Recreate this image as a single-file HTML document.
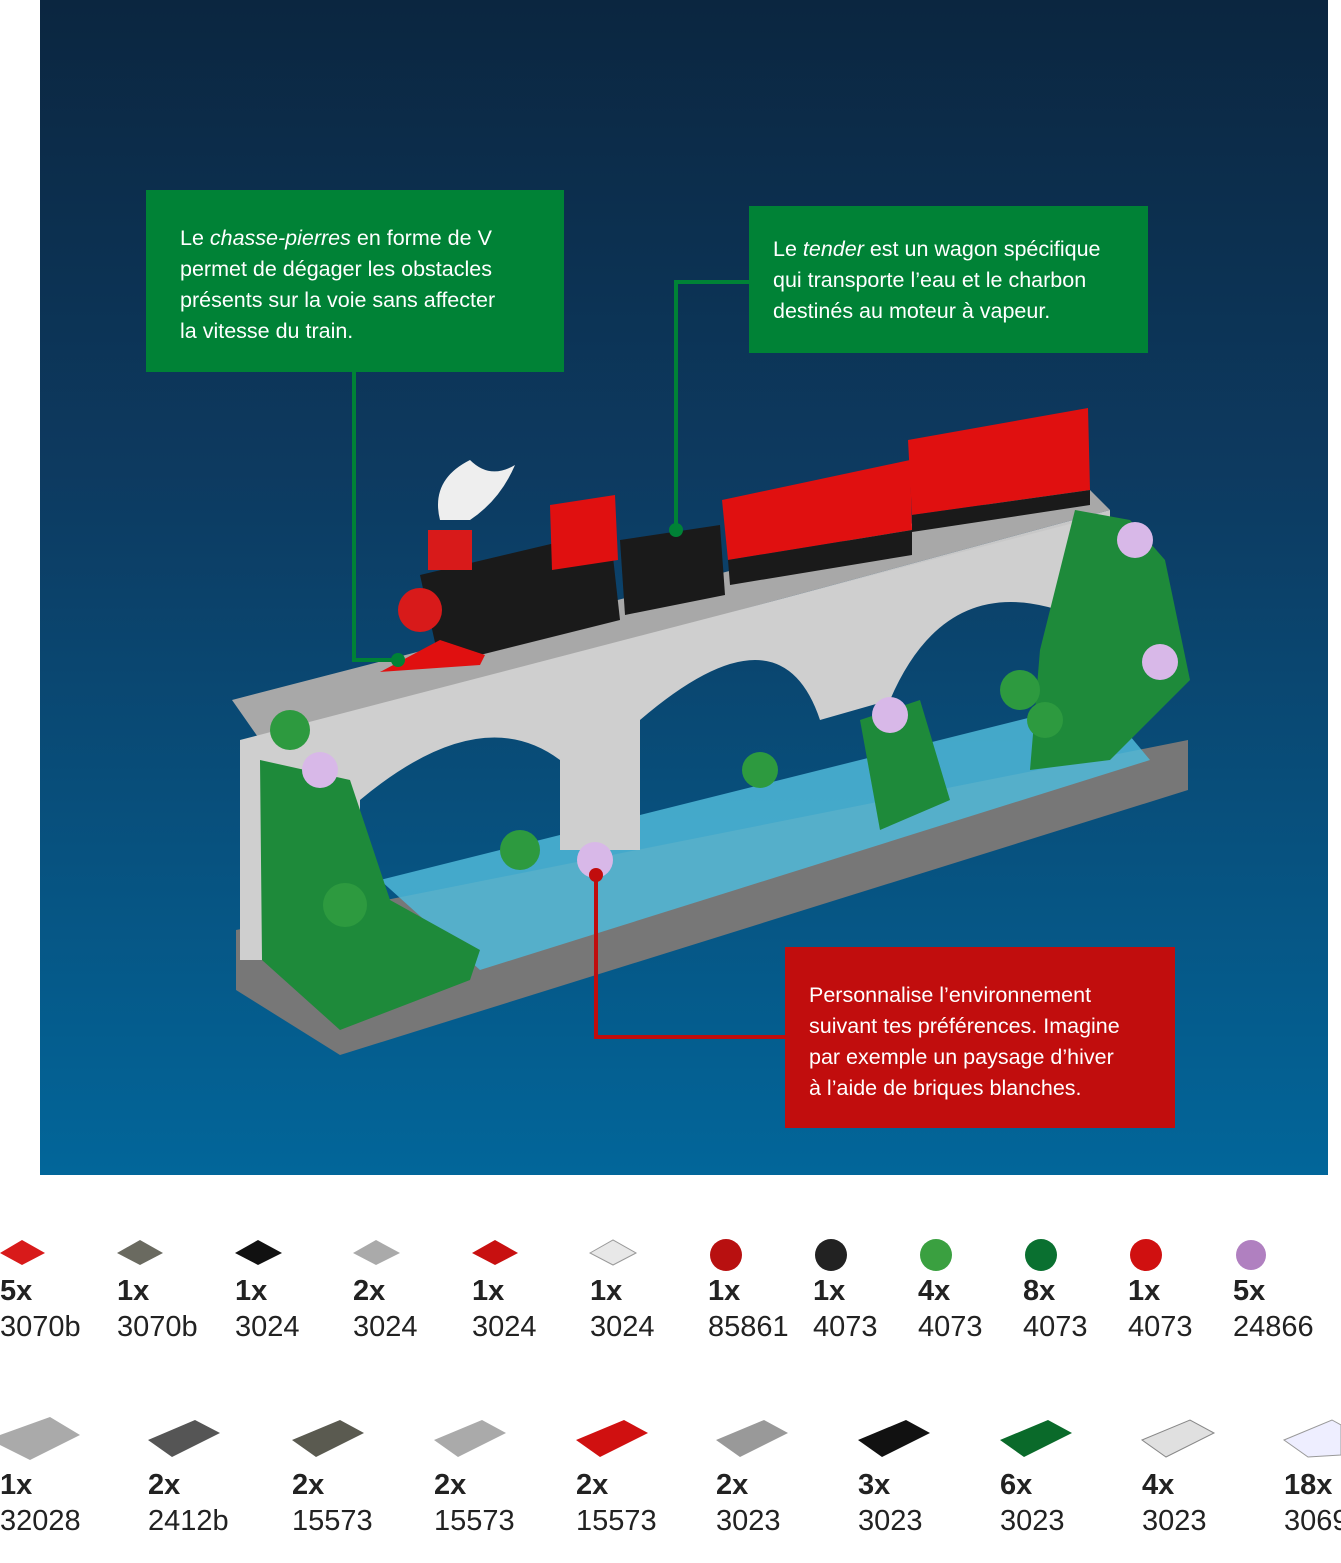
<!DOCTYPE html>
<html><head><meta charset="utf-8"><style>
body{margin:0;width:1341px;height:1563px;background:#fff;position:relative;overflow:hidden;font-family:"Liberation Sans",sans-serif}
#bg{position:absolute;left:40px;top:0;width:1288px;height:1175px;background:linear-gradient(180deg,#0b2640 0%,#0d3a60 40%,#02669a 100%)}
.box{position:absolute;color:#fff;font-size:21.5px;line-height:31px;box-sizing:border-box}
.g{background:#008236}.r{background:#c10d0d}
.p{position:absolute;font-size:29px;color:#222;line-height:36px}
.p b{display:block}
</style></head><body>
<div id="bg"></div>
<svg style="position:absolute;left:0;top:0" width="1341" height="1175">
<polygon points="236,930 1188,740 1188,790 340,1055 236,990" fill="#777"/>
<polygon points="380,880 1100,700 1150,760 480,970" fill="#4fb8d8" opacity="0.85"/>
<polygon points="232,700 1080,480 1110,510 260,740" fill="#a8a8a8"/>
<polygon points="260,740 1110,510 1110,540 260,770" fill="#c8c8c8"/>
<path d="M240,740 L1085,520 L1085,620 Q950,560 890,700 L820,720 Q780,600 640,720 L640,850 L560,850 L560,760 Q480,700 360,800 L360,960 L240,960Z" fill="#cfcfcf"/>
<polygon points="260,760 350,780 390,900 480,950 470,980 340,1030 262,960" fill="#1e8a3a"/>
<polygon points="1075,510 1130,520 1165,560 1190,680 1110,760 1030,770 1040,650" fill="#1e8a3a"/>
<polygon points="860,720 920,700 950,800 880,830" fill="#1e8a3a"/>
<circle cx="290" cy="730" r="20" fill="#2d9a3f"/><circle cx="345" cy="905" r="22" fill="#2d9a3f"/>
<circle cx="520" cy="850" r="20" fill="#2d9a3f"/><circle cx="760" cy="770" r="18" fill="#2d9a3f"/>
<circle cx="1020" cy="690" r="20" fill="#2d9a3f"/><circle cx="1045" cy="720" r="18" fill="#2d9a3f"/>
<circle cx="320" cy="770" r="18" fill="#d8b8e8"/><circle cx="595" cy="860" r="18" fill="#d8b8e8"/>
<circle cx="890" cy="715" r="18" fill="#d8b8e8"/><circle cx="1160" cy="662" r="18" fill="#d8b8e8"/>
<circle cx="1135" cy="540" r="18" fill="#d8b8e8"/>
<polygon points="420,575 610,530 620,620 440,665" fill="#1a1a1a"/>
<polygon points="620,540 720,525 725,595 625,615" fill="#1a1a1a"/>
<polygon points="550,505 615,495 618,560 552,570" fill="#e01010"/>
<circle cx="420" cy="610" r="22" fill="#d81a1a"/>
<polygon points="380,672 440,640 485,655 480,665" fill="#e01010"/>
<rect x="428" y="530" width="44" height="40" fill="#d81a1a"/>
<path d="M440,520 Q430,480 470,460 Q490,480 515,465 Q500,500 470,520Z" fill="#eee"/>
<polygon points="722,500 910,460 912,530 728,560" fill="#e01010"/>
<polygon points="728,560 912,530 912,555 730,585" fill="#1a1a1a"/>
<polygon points="908,440 1088,408 1090,490 912,515" fill="#e01010"/>
<polygon points="912,515 1090,490 1090,505 912,532" fill="#1a1a1a"/>
<polyline points="354,372 354,660 398,660" fill="none" stroke="#008236" stroke-width="4"/>
<circle cx="398" cy="660" r="7" fill="#008236"/>
<polyline points="749,282 676,282 676,530" fill="none" stroke="#008236" stroke-width="4"/>
<circle cx="676" cy="530" r="7" fill="#008236"/>
<polyline points="785,1037 596,1037 596,875" fill="none" stroke="#c10d0d" stroke-width="4"/>
<circle cx="596" cy="875" r="7" fill="#c10d0d"/>
</svg>
<div class="box g" style="left:146px;top:190px;width:418px;height:182px;padding:33px 0 0 34px">Le <i>chasse-pierres</i> en forme de V<br>permet de dégager les obstacles<br>présents sur la voie sans affecter<br>la vitesse du train.</div>
<div class="box g" style="left:749px;top:206px;width:399px;height:147px;padding:28px 0 0 24px">Le <i>tender</i> est un wagon spécifique<br>qui transporte l’eau et le charbon<br>destinés au moteur à vapeur.</div>
<div class="box r" style="left:785px;top:947px;width:390px;height:181px;padding:33px 0 0 24px">Personnalise l’environnement<br>suivant tes préférences. Imagine<br>par exemple un paysage d’hiver<br>à l’aide de briques blanches.</div>

<svg style="position:absolute;left:0;top:1225px" width="1341" height="60">
<polygon points="0,28 22,15 45,28 22,40" fill="#d81a1a"/>
<polygon points="117,28 140,15 163,28 140,40" fill="#6a6a60"/>
<polygon points="235,28 258,15 282,28 258,40" fill="#111"/>
<polygon points="353,28 376,15 400,28 376,40" fill="#aaa"/>
<polygon points="472,28 495,15 518,28 495,40" fill="#c81010"/>
<polygon points="590,28 613,15 636,28 613,40" fill="#e8e8e8" stroke="#999"/>
<circle cx="726" cy="30" r="16" fill="#b81010"/><circle cx="831" cy="30" r="16" fill="#222"/>
<circle cx="936" cy="30" r="16" fill="#3aa040"/><circle cx="1041" cy="30" r="16" fill="#0a7030"/>
<circle cx="1146" cy="30" r="16" fill="#d01010"/><circle cx="1251" cy="30" r="15" fill="#b080c0"/>
</svg>
<svg style="position:absolute;left:0;top:1405px" width="1341" height="70">
<polygon points="0,30 50,12 80,30 30,55 0,40" fill="#aaa"/>
<polygon points="148,35 195,15 220,28 172,52" fill="#555"/>
<polygon points="292,35 340,15 364,28 316,52" fill="#5a5a50"/>
<polygon points="434,35 482,15 506,28 458,52" fill="#aaa"/>
<polygon points="576,35 624,15 648,28 600,52" fill="#d01010"/>
<polygon points="716,35 764,15 788,28 740,52" fill="#999"/>
<polygon points="858,35 906,15 930,28 882,52" fill="#111"/>
<polygon points="1000,35 1048,15 1072,28 1024,52" fill="#0a6a2a"/>
<polygon points="1142,35 1190,15 1214,28 1166,52" fill="#e0e0e0" stroke="#888"/>
<polygon points="1284,35 1332,15 1341,20 1341,50 1308,52" fill="#eef" stroke="#999"/>
</svg>
<div class="p" style="left:0;top:1273px"><b>5x</b>3070b</div>
<div class="p" style="left:117px;top:1273px"><b>1x</b>3070b</div>
<div class="p" style="left:235px;top:1273px"><b>1x</b>3024</div>
<div class="p" style="left:353px;top:1273px"><b>2x</b>3024</div>
<div class="p" style="left:472px;top:1273px"><b>1x</b>3024</div>
<div class="p" style="left:590px;top:1273px"><b>1x</b>3024</div>
<div class="p" style="left:708px;top:1273px"><b>1x</b>85861</div>
<div class="p" style="left:813px;top:1273px"><b>1x</b>4073</div>
<div class="p" style="left:918px;top:1273px"><b>4x</b>4073</div>
<div class="p" style="left:1023px;top:1273px"><b>8x</b>4073</div>
<div class="p" style="left:1128px;top:1273px"><b>1x</b>4073</div>
<div class="p" style="left:1233px;top:1273px"><b>5x</b>24866</div>
<div class="p" style="left:0;top:1467px"><b>1x</b>32028</div>
<div class="p" style="left:148px;top:1467px"><b>2x</b>2412b</div>
<div class="p" style="left:292px;top:1467px"><b>2x</b>15573</div>
<div class="p" style="left:434px;top:1467px"><b>2x</b>15573</div>
<div class="p" style="left:576px;top:1467px"><b>2x</b>15573</div>
<div class="p" style="left:716px;top:1467px"><b>2x</b>3023</div>
<div class="p" style="left:858px;top:1467px"><b>3x</b>3023</div>
<div class="p" style="left:1000px;top:1467px"><b>6x</b>3023</div>
<div class="p" style="left:1142px;top:1467px"><b>4x</b>3023</div>
<div class="p" style="left:1284px;top:1467px;white-space:nowrap"><b>18x</b>3069</div>
</body></html>
